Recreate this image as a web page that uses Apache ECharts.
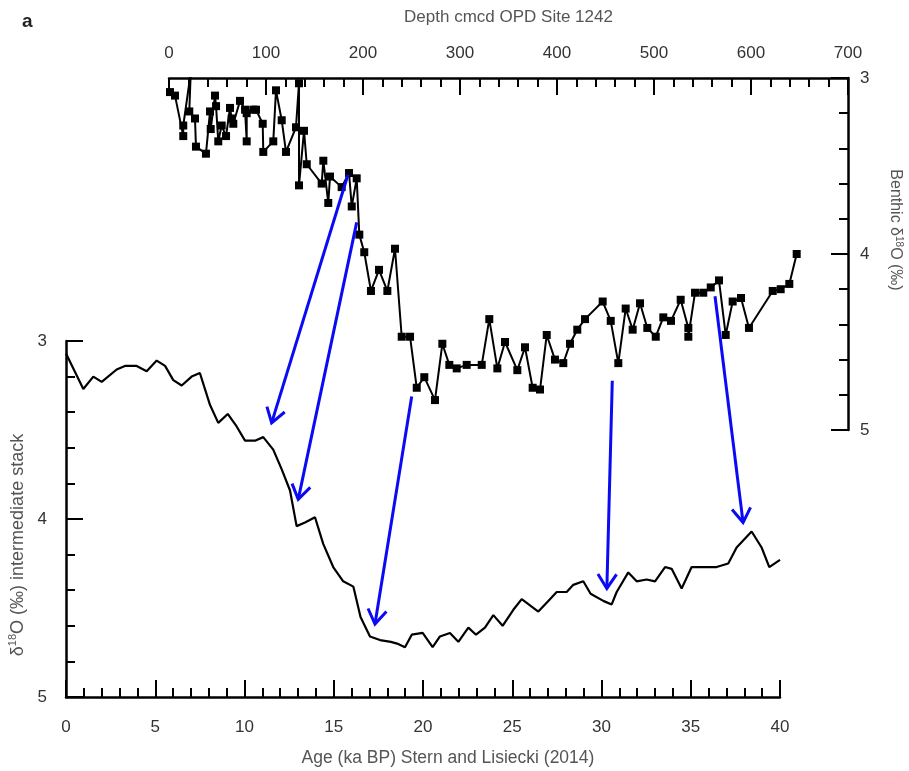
<!DOCTYPE html>
<html><head><meta charset="utf-8">
<script src="https://cdn.jsdelivr.net/npm/echarts@6/dist/echarts.min.js"></script>
<style>html,body{margin:0;padding:0;background:#fff}#c{width:909px;height:771px}</style>
</head><body><div id="c"></div>
<script>
// Intermediate stack (Stern and Lisiecki 2014): age (ka BP) vs d18O (permil)
const ageKa = [0, 0.97, 1.53, 2.0, 2.84, 3.3, 3.96, 4.52, 5.08, 5.55, 6.01, 6.48, 7.04, 7.5, 8.07, 8.53, 9.06, 9.56, 10.03, 10.59, 11.05, 11.61, 12.08, 12.55, 12.92, 13.39, 13.95, 14.41, 14.97, 15.53, 16.1, 16.5, 17.03, 17.59, 18.2, 18.55, 18.99, 19.37, 19.98, 20.54, 20.95, 21.51, 21.98, 22.54, 22.97, 23.47, 23.94, 24.46, 25.06, 25.53, 26.46, 27.02, 27.49, 28.05, 28.42, 28.98, 29.39, 30.1, 30.57, 30.85, 31.5, 31.97, 32.53, 33.0, 33.56, 33.93, 34.49, 35.05, 36.45, 37.1, 37.57, 38.41, 38.97, 39.4, 40.0];
const stackD18O = [3.07, 3.27, 3.20, 3.23, 3.16, 3.14, 3.14, 3.17, 3.11, 3.14, 3.22, 3.25, 3.20, 3.18, 3.36, 3.46, 3.41, 3.48, 3.56, 3.56, 3.54, 3.61, 3.72, 3.84, 4.04, 4.02, 3.99, 4.14, 4.27, 4.35, 4.38, 4.55, 4.66, 4.68, 4.69, 4.70, 4.72, 4.65, 4.64, 4.72, 4.66, 4.64, 4.69, 4.61, 4.65, 4.61, 4.54, 4.60, 4.51, 4.45, 4.52, 4.46, 4.41, 4.41, 4.37, 4.35, 4.42, 4.46, 4.48, 4.41, 4.30, 4.35, 4.34, 4.35, 4.27, 4.28, 4.39, 4.27, 4.27, 4.25, 4.16, 4.07, 4.16, 4.27, 4.23];

// Benthic record, ODP Site 1242: depth (cmcd) vs d18O (permil)
const depthCmcd = [1.0, 6.2, 14.7, 14.7, 22.4, 20.9, 26.8, 27.8, 38.1, 42.3, 43.0, 47.4, 48.5, 50.8, 54.3, 58.8, 62.9, 64.6, 66.3, 73.2, 78.4, 80.1, 80.1, 86.9, 89.7, 96.6, 97.2, 107.5, 110.3, 116.2, 120.6, 130.9, 134.0, 134.0, 139.2, 142.0, 157.4, 159.1, 164.2, 166.0, 178.0, 185.6, 188.4, 193.5, 196.2, 201.3, 208.2, 216.5, 225.1, 233.0, 239.9, 248.5, 255.4, 263.2, 274.2, 281.8, 289.0, 296.6, 306.9, 322.4, 330.2, 338.5, 346.4, 359.1, 367.0, 374.9, 382.5, 389.4, 397.9, 406.5, 413.4, 420.9, 428.9, 447.1, 455.4, 463.2, 470.8, 478.0, 485.6, 493.1, 501.8, 509.6, 517.5, 527.5, 535.4, 535.4, 542.3, 550.8, 558.5, 567.0, 573.9, 581.1, 589.7, 597.9, 622.4, 630.6, 639.5, 647.1];
const benthicD18O = [3.08, 3.10, 3.33, 3.27, 2.97, 3.19, 3.23, 3.39, 3.43, 3.19, 3.29, 3.10, 3.16, 3.36, 3.27, 3.33, 3.17, 3.23, 3.26, 3.13, 3.18, 3.36, 3.20, 3.18, 3.18, 3.26, 3.42, 3.36, 3.07, 3.24, 3.42, 3.28, 3.03, 3.61, 3.30, 3.49, 3.60, 3.47, 3.71, 3.56, 3.62, 3.54, 3.73, 3.57, 3.89, 3.99, 4.21, 4.09, 4.21, 3.97, 4.47, 4.47, 4.76, 4.70, 4.83, 4.51, 4.63, 4.65, 4.63, 4.63, 4.37, 4.65, 4.50, 4.66, 4.53, 4.76, 4.77, 4.46, 4.60, 4.62, 4.51, 4.43, 4.37, 4.27, 4.38, 4.62, 4.31, 4.43, 4.28, 4.42, 4.47, 4.36, 4.38, 4.26, 4.42, 4.47, 4.22, 4.22, 4.19, 4.15, 4.46, 4.27, 4.25, 4.42, 4.21, 4.20, 4.17, 4.00];

// Tie-point arrows: start on benthic record [depth, d18O], end on stack [age, d18O]
const arrowFrom = [[184.5, 3.55], [193.5, 3.82], [250.2, 4.81], [457.0, 4.72], [562.9, 4.24]];
const arrowTo   = [[11.52, 3.46], [13.01, 3.89], [17.31, 4.59], [30.3, 4.39], [37.93, 4.02]];

const FONT = '"Liberation Sans", Arial, Helvetica, sans-serif';
const LBL = {color: '#333', fontSize: 17, fontFamily: FONT};
function nameStyle(size, padding) {
  return {color: '#555', fontSize: size, fontFamily: FONT, padding: padding,
    rich: {t: {color: '#555', fontSize: size, fontFamily: FONT, lineHeight: size + 2},
           s: {color: '#555', fontSize: Math.round(size * 0.6), fontFamily: FONT,
               verticalAlign: 'top', lineHeight: size + 2}}};
}

function ax(extra) {
  return Object.assign({
    type: 'value', splitLine: {show: false}, minorSplitLine: {show: false},
    axisLine: {show: true, onZero: false, lineStyle: {color: '#000', width: 2.5}},
    axisTick: {show: true, inside: true, length: 17, lineStyle: {color: '#000', width: 2}},
    minorTick: {show: true, splitNumber: 5, length: 9, lineStyle: {color: '#000', width: 2}},
    axisLabel: Object.assign({margin: 20}, LBL),
    nameLocation: 'middle'
  }, extra);
}

const chart = echarts.init(document.getElementById('c'), null, {renderer: 'canvas'});
chart.setOption({
  animation: false,
  backgroundColor: '#fff',
  grid: [
    {left: 66, top: 341, width: 714, height: 356, containLabel: false, outerBoundsMode: 'none'},
    {left: 169, top: 78, width: 679, height: 352, containLabel: false, outerBoundsMode: 'none'}
  ],
  xAxis: [
    ax({gridIndex: 0, position: 'bottom', min: 0, max: 40, interval: 5,
        axisLabel: Object.assign({margin: 22}, LBL),
        name: 'Age (ka BP) Stern and Lisiecki (2014)', nameGap: 52,
        nameTextStyle: nameStyle(17.5, [0, 0, 0, 50])}),
    ax({gridIndex: 1, position: 'top', min: 0, max: 700, interval: 100,
        axisLabel: Object.assign({margin: 16}, LBL),
        name: 'Depth cmcd OPD Site 1242', nameGap: 52,
        nameTextStyle: nameStyle(17, 0)})
  ],
  yAxis: [
    ax({gridIndex: 0, position: 'left', inverse: true, min: 3, max: 5, interval: 1,
        axisLabel: Object.assign({margin: 19}, LBL),
        name: '{t|δ}{s|18}{t|O (‰) intermediate stack}', nameRotate: 90, nameGap: 35,
        nameTextStyle: nameStyle(18, [0, 52, 0, 0])}),
    ax({gridIndex: 1, position: 'right', inverse: true, min: 3, max: 5, interval: 1,
        axisLabel: Object.assign({margin: 12}, LBL),
        name: '{t|Benthic δ}{s|18}{t|O (‰)}', nameRotate: -90, nameGap: 38,
        nameTextStyle: nameStyle(16, [0, 48, 0, 0])})
  ],
  series: [
    {type: 'line', xAxisIndex: 0, yAxisIndex: 0, showSymbol: false, symbol: 'none',
     data: ageKa.map((a, i) => [a, stackD18O[i]]),
     lineStyle: {color: '#000', width: 2.2}},
    {type: 'line', xAxisIndex: 1, yAxisIndex: 1, clip: true,
     symbol: 'rect', symbolSize: 8,
     itemStyle: {color: '#000'},
     data: depthCmcd.map((d, i) => [d, benthicD18O[i]]),
     lineStyle: {color: '#000', width: 2}}
  ]
});

const g = [{type: 'text', left: 22, top: 12,
  style: {text: 'a', fill: '#222', font: 'bold 19px ' + FONT}}];
arrowFrom.forEach((s, i) => {
  const p0 = chart.convertToPixel({xAxisIndex: 1, yAxisIndex: 1}, s);
  const p1 = chart.convertToPixel({xAxisIndex: 0, yAxisIndex: 0}, arrowTo[i]);
  const ang = Math.atan2(p1[1] - p0[1], p1[0] - p0[0]);
  const L = 17, a = 0.58;
  const h1 = [p1[0] - L * Math.cos(ang - a), p1[1] - L * Math.sin(ang - a)];
  const h2 = [p1[0] - L * Math.cos(ang + a), p1[1] - L * Math.sin(ang + a)];
  g.push({type: 'line', z: 100, shape: {x1: p0[0], y1: p0[1], x2: p1[0], y2: p1[1]},
          style: {stroke: '#0a0af5', lineWidth: 3}});
  g.push({type: 'polyline', z: 100, shape: {points: [h1, p1, h2]},
          style: {stroke: '#0a0af5', lineWidth: 3, fill: null}});
});
chart.setOption({graphic: g});
</script></body></html>
